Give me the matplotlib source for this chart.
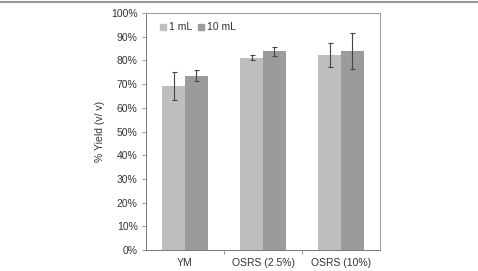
import matplotlib
matplotlib.use("Agg")
import matplotlib.pyplot as plt
from matplotlib.lines import Line2D
from matplotlib.ticker import FuncFormatter, FixedLocator
import numpy as np

categories = ["YM", "OSRS (2.5%)", "OSRS (10%)"]
series_names = ["1 mL", "10 mL"]
yield_1ml = [69.2, 81.2, 82.2]
err_1ml = [5.9, 1.1, 5.0]
yield_10ml = [73.6, 83.8, 84.0]
err_10ml = [2.4, 2.0, 7.7]

plt.rcParams['font.family'] = ['Liberation Sans', 'DejaVu Sans']

fig = plt.figure(figsize=(4.78, 2.71), dpi=100)
ax = fig.add_axes([146/478, 1-250/271, 234/478, 237/271])

x = np.arange(len(categories))
w = 0.29
c1 = "#bebebf"
c2 = "#9b9b9d"
ecol = "#444444"
ax.bar(x - w/2, yield_1ml, w, color=c1, label=series_names[0], zorder=2)
ax.bar(x + w/2, yield_10ml, w, color=c2, label=series_names[1], zorder=2)
ax.errorbar(x - w/2, yield_1ml, yerr=err_1ml, fmt='none', ecolor=ecol, elinewidth=0.8, capsize=1.8, capthick=0.8, zorder=3)
ax.errorbar(x + w/2, yield_10ml, yerr=err_10ml, fmt='none', ecolor=ecol, elinewidth=0.8, capsize=1.8, capthick=0.8, zorder=3)

ax.set_xlim(-0.5, len(categories) - 0.5)
ax.set_ylim(0, 100)
ax.set_yticks(np.arange(0, 101, 10))
ax.yaxis.set_major_formatter(FuncFormatter(lambda v, p: f"{int(v)}%"))
ax.set_xticks(x)
ax.set_xticklabels(categories)
ax.tick_params(axis='x', length=0, pad=6, labelsize=7.5, colors="#333333")
ax.xaxis.set_minor_locator(FixedLocator([0.5, 1.5]))
ax.tick_params(axis='x', which='minor', length=3, color="#888888", width=0.6)
ax.tick_params(axis='y', length=3, color="#888888", width=0.6, labelsize=7.5, colors="#333333", pad=3)
ax.tick_params(axis='y', color="#888888")
ax.set_ylabel("% Yield (v/ v)", fontsize=7.5, color="#333333", labelpad=4)

for s in ax.spines.values():
    s.set_color("#999999")
    s.set_linewidth(0.7)
ax.spines['bottom'].set_color("#777777")
ax.spines['left'].set_color("#777777")

handles = [Line2D([], [], marker='s', linestyle='none', markersize=4.5, markerfacecolor=c, markeredgecolor=c) for c in (c1, c2)]
ax.legend(handles, series_names, loc='upper left', bbox_to_anchor=(0.01, 1.0), ncol=2, frameon=False,
          fontsize=7.5, handletextpad=0.05, columnspacing=0.4, handlelength=1.0, labelcolor="#333333")

fig.add_artist(Line2D([0, 1], [1 - 1.5/271, 1 - 1.5/271], color="#9a9a9a", linewidth=1.5, transform=fig.transFigure))

fig.savefig("out.png", dpi=100)
